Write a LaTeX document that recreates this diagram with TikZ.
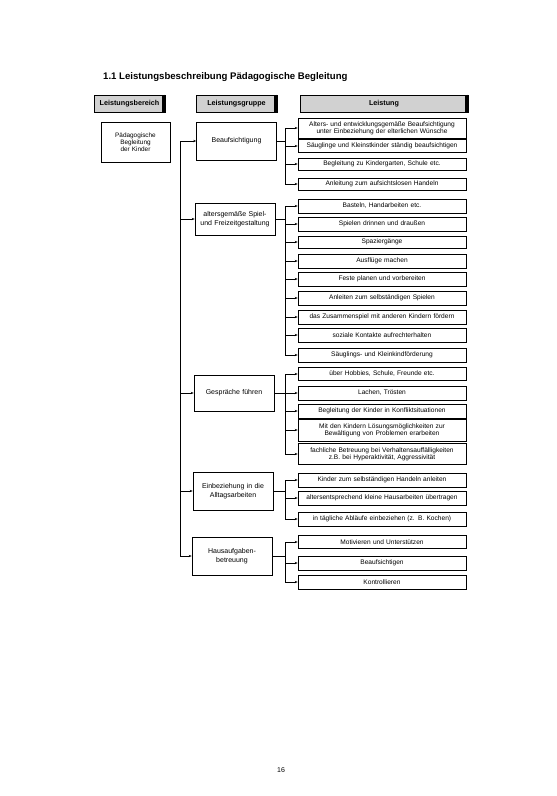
\documentclass[tikz,border=0pt]{standalone}
\usepackage{fontspec}
\setmainfont{Liberation Sans}
\usetikzlibrary{arrows.meta}
\begin{document}
\begin{tikzpicture}[x=1pt,y=-1pt,
  every node/.style={inner sep=1pt},
  lbox/.style={draw, line width=0.6pt, minimum width=168pt, text width=164pt, align=center, font=\fontsize{6.6}{7.4}\selectfont},
  gbox/.style={draw, line width=0.6pt, minimum width=80pt, text width=76pt, align=center, font=\fontsize{7}{8.4}\selectfont},
  hbox/.style={draw, line width=0.6pt, fill=black!18, font=\bfseries\fontsize{7.2}{8}\selectfont, minimum height=17pt},
  shadow/.style={line width=3pt},
  con/.style={line width=0.6pt},
  arr/.style={line width=0.6pt, -{Stealth[length=3pt,width=2.4pt]}},
]
\useasboundingbox (0,0) rectangle (557,796);

% title
\node[anchor=west, font=\bfseries\fontsize{9.6}{11}\selectfont] (title) at (102,77) {1.1 Leistungsbeschreibung Pädagogische Begleitung};

% headers
\node[hbox, minimum width=71pt] (h1) at (129.5,103.5) {Leistungsbereich};
\node[hbox, minimum width=81pt] (h2) at (236.5,103.5) {Leistungsgruppe};
\node[hbox, minimum width=168pt] (h3) at (384,103.5) {Leistung};
\foreach \h in {h1,h2,h3}{
  \draw[shadow] ([xshift=-1.5pt]\h.north east) -- ([xshift=-1.5pt]\h.south east);
}

% root
\node[draw, line width=0.6pt, minimum width=69pt, minimum height=40pt, text width=66pt, align=center, font=\fontsize{6.4}{7.2}\selectfont, anchor=north] (root) at (135.5,122) {Pädagogische\\Begleitung\\der Kinder\\[10pt]};

% groups
\node[gbox, minimum height=38pt] (g1) at (236.5,141) {Beaufsichtigung};
\node[gbox, minimum height=32pt] (g2) at (235,219) {altersgemäße Spiel-\\und Freizeitgestaltung};
\node[gbox, minimum height=36pt] (g3) at (234,393) {Gespräche führen};
\node[gbox, minimum height=38pt] (g4) at (233,491) {Einbeziehung in die\\Alltagsarbeiten};
\node[gbox, minimum height=38pt] (g5) at (232,556) {Hausaufgaben-\\betreuung};

% leistungen group 1
\node[lbox, minimum height=20pt] (a1) at (382,128) {Alters- und entwicklungsgemäße Beaufsichtigung\\unter Einbeziehung der elterlichen Wünsche};
\node[lbox, minimum height=13pt] (a2) at (382,146) {Säuglinge und Kleinstkinder ständig beaufsichtigen};
\node[lbox, minimum height=12pt] (a3) at (382,164) {Begleitung zu Kindergarten, Schule etc.};
\node[lbox, minimum height=12pt] (a4) at (382,184) {Anleitung zum aufsichtslosen Handeln};

% group 2
\node[lbox, minimum height=14pt] (b1) at (382,206) {Basteln, Handarbeiten etc.};
\node[lbox, minimum height=14pt] (b2) at (382,224) {Spielen drinnen und draußen};
\node[lbox, minimum height=12pt] (b3) at (382,242) {Spaziergänge};
\node[lbox, minimum height=14pt] (b4) at (382,261) {Ausflüge machen};
\node[lbox, minimum height=14pt] (b5) at (382,279) {Feste planen und vorbereiten};
\node[lbox, minimum height=14pt] (b6) at (382,298) {Anleiten zum selbständigen Spielen};
\node[lbox, minimum height=14pt] (b7) at (382,317) {das Zusammenspiel mit anderen Kindern fördern};
\node[lbox, minimum height=14pt] (b8) at (382,335) {soziale Kontakte aufrechterhalten};
\node[lbox, minimum height=14pt] (b9) at (382,355) {Säuglings- und Kleinkindförderung};

% group 3
\node[lbox, minimum height=13pt] (c1) at (382,374) {über Hobbies, Schule, Freunde etc.};
\node[lbox, minimum height=14pt] (c2) at (382,393) {Lachen, Trösten};
\node[lbox, minimum height=14pt] (c3) at (382,411) {Begleitung der Kinder in Konfliktsituationen};
\node[lbox, minimum height=22pt] (c4) at (382,430) {Mit den Kindern Lösungsmöglichkeiten zur\\Bewältigung von Problemen erarbeiten};
\node[lbox, minimum height=21pt] (c5) at (382,454) {fachliche Betreuung bei Verhaltensauffälligkeiten\\z.B. bei Hyperaktivität, Aggressivität};

% group 4
\node[lbox, minimum height=14pt] (d1) at (382,480) {Kinder zum selbständigen Handeln anleiten};
\node[lbox, minimum height=14pt] (d2) at (382,498) {altersentsprechend kleine Hausarbeiten übertragen};
\node[lbox, minimum height=14pt] (d3) at (382,519) {in tägliche Abläufe einbeziehen (z. B. Kochen)};

% group 5
\node[lbox, minimum height=13pt] (e1) at (382,542) {Motivieren und Unterstützen};
\node[lbox, minimum height=14pt] (e2) at (382,563) {Beaufsichtigen};
\node[lbox, minimum height=14pt] (e3) at (382,582) {Kontrollieren};

% main spine
\coordinate (sp) at (180,0);
\draw[con] (sp |- g1.west) -- (sp |- g5.west);
\foreach \g in {g1,g2,g3,g4,g5}{
  \draw[arr] (sp |- \g.west) -- (\g.west);
}

% sub spines
\coordinate (ss) at (285,0);
\foreach \g/\first/\last/\list in {g1/a1/a4/{a1,a2,a3,a4}, g2/b1/b9/{b1,b2,b3,b4,b5,b6,b7,b8,b9}, g3/c1/c5/{c1,c2,c3,c4,c5}, g4/d1/d3/{d1,d2,d3}, g5/e1/e3/{e1,e2,e3}}{
  \draw[con] (ss |- \first.west) -- (ss |- \last.west);
  \draw[con] (\g.east) -- (ss |- \g.east);
  \foreach \b in \list { \draw[arr] (ss |- \b.west) -- (\b.west); }
}

% page number
\node[font=\fontsize{7}{8}\selectfont] (page) at (281,770) {16};
\end{tikzpicture}
\end{document}
